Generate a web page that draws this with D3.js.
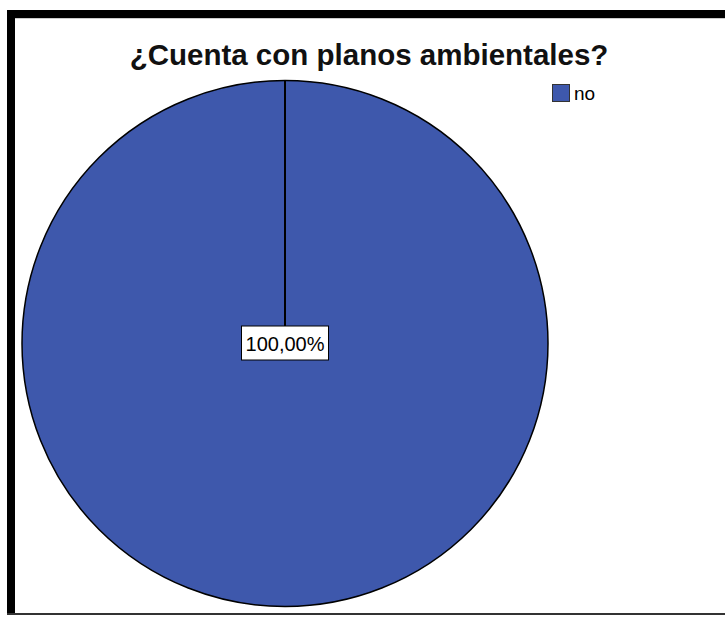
<!DOCTYPE html>
<html>
<head>
<meta charset="utf-8">
<script src="https://cdn.jsdelivr.net/npm/d3@7"></script>
<style>
  html, body { margin: 0; padding: 0; background: #fff; }
  svg { display: block; font-family: "Liberation Sans", Arial, sans-serif; }
</style>
</head>
<body>
<svg id="chart" width="725" height="617"></svg>
<script>
const title = "¿Cuenta con planos ambientales?";
const categories = ["no"];
const percentages = [100];
const colors = ["#3e58ac"];
const labelTexts = ["100,00%"];

const svg = d3.select("#chart");
const W = 725, H = 617;

// frame
svg.append("rect").attr("x", 7).attr("y", 10).attr("width", W - 7).attr("height", 8).attr("fill", "#000");
svg.append("rect").attr("x", 7).attr("y", 10).attr("width", 8).attr("height", 605).attr("fill", "#000");
svg.append("line").attr("x1", 15).attr("x2", W).attr("y1", 18.5).attr("y2", 18.5).attr("stroke", "#ccc").attr("stroke-width", 1);
svg.append("rect").attr("x", 7).attr("y", 613).attr("width", W - 7).attr("height", 2).attr("fill", "#333");

// title
svg.append("text")
  .attr("x", 369).attr("y", 65)
  .attr("text-anchor", "middle")
  .attr("font-size", 29.5)
  .attr("font-weight", "bold")
  .attr("fill", "#111")
  .text(title);

// pie
const cx = 285, cy = 343.5, r = 263;
const pie = d3.pie().sort(null).value(d => d)(percentages);
const arc = d3.arc().innerRadius(0).outerRadius(r);
const g = svg.append("g").attr("transform", `translate(${cx},${cy})`);
g.selectAll("path.slice").data(pie).enter().append("path")
  .attr("class", "slice")
  .attr("d", arc)
  .attr("fill", (d, i) => colors[i])
  .attr("stroke", "#000")
  .attr("stroke-width", 1.5);

// slice boundary lines
g.selectAll("line.bound").data(pie).enter().append("line")
  .attr("class", "bound")
  .attr("x1", 0).attr("y1", 0)
  .attr("x2", d => r * Math.sin(d.startAngle))
  .attr("y2", d => -r * Math.cos(d.startAngle))
  .attr("stroke", "#000").attr("stroke-width", 2);

// labels
const lab = g.selectAll("g.lab").data(pie).enter().append("g").attr("class", "lab");
lab.append("rect")
  .attr("x", -43.5).attr("y", -17.5).attr("width", 87).attr("height", 34)
  .attr("fill", "#fff").attr("stroke", "#000").attr("stroke-width", 1);
lab.append("text")
  .attr("x", 0).attr("y", 7)
  .attr("text-anchor", "middle")
  .attr("font-size", 20)
  .attr("fill", "#000")
  .text((d, i) => labelTexts[i]);

// legend
const leg = svg.selectAll("g.leg").data(categories).enter().append("g").attr("class", "leg")
  .attr("transform", (d, i) => `translate(552,${84 + i * 22})`);
leg.append("rect").attr("x", 0.5).attr("y", 0.5).attr("width", 17).attr("height", 17)
  .attr("fill", (d, i) => colors[i]).attr("stroke", "#333").attr("stroke-width", 1);
leg.append("text").attr("x", 22).attr("y", 16).attr("font-size", 19).attr("fill", "#000").text(d => d);
</script>
</body>
</html>
